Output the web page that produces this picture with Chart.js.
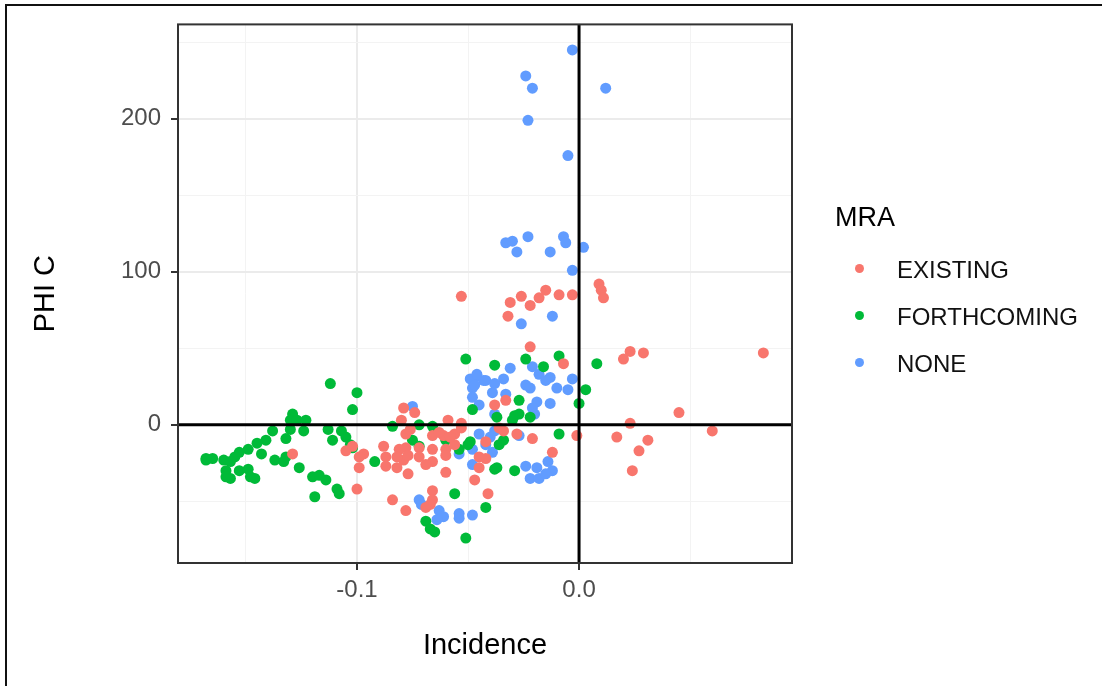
<!DOCTYPE html>
<html lang="en">
<head>
  <meta charset="UTF-8">
  <title>PHI C vs Incidence</title>
  <script src="https://cdn.jsdelivr.net/npm/chart.js"></script>
  <style>
    body { margin: 0; background: #fff; font-family: "Liberation Sans", Arial, sans-serif; }
    .wrap { position: relative; width: 1102px; height: 686px; overflow: hidden; }
    .frame-top { position: absolute; left: 5px; top: 4px; width: 1097px; height: 2px; background: #111; }
    .frame-left { position: absolute; left: 5px; top: 4px; width: 2px; height: 682px; background: #111; }
    .legend-title { position: absolute; left: 835px; top: 204px; font-size: 27px; line-height: 27px; color: #000; }
    .legend-item { position: absolute; left: 897px; font-size: 24px; line-height: 24px; color: #111; }
    .legend-dot { position: absolute; width: 9px; height: 9px; border-radius: 50%; }
  </style>
</head>
<body>
  <div class="wrap">
    <canvas id="scatter" width="1102" height="686"></canvas>
    <div class="frame-top"></div>
    <div class="frame-left"></div>
    <div id="legend"></div>
  </div>

  <script>
    // MRA groups
    const groups = ['EXISTING', 'FORTHCOMING', 'NONE'];
    const groupColors = ['#F8766D', '#00BA38', '#619CFF'];

    // [Incidence, PHI C]
    const existing = [
      [-0.053,84],[-0.031,80],[-0.026,84],[-0.022,78],[-0.018,83],[-0.015,88],[-0.009,85],[-0.003,85],[-0.032,71],[-0.022,51],[-0.007,40],
      [0.009,92],[0.010,88],[0.011,83],[0.023,48],[0.020,43],[0.029,47],[0.083,47],[0.045,8],[0.023,1],[0.060,-4],[0.017,-8],[0.031,-10],[0.027,-17],[0.024,-30],
      [-0.038,13],[-0.033,16],[-0.034,-4],[-0.028,-6],[-0.021,-9],[-0.012,-18],[-0.001,-7],[-0.042,-11],[-0.042,-22],[-0.045,-28],[-0.047,-36],[-0.041,-45],[-0.036,-2],[-0.045,-21],
      [-0.079,11],[-0.074,8],[-0.059,3],[-0.053,1],[-0.078,-6],[-0.066,-7],[-0.061,-7],[-0.056,-6],[-0.078,-15],[-0.072,-15],[-0.066,-16],[-0.060,-16],[-0.056,-13],
      [-0.079,-23],[-0.072,-21],[-0.066,-24],[-0.060,-20],[-0.077,-32],[-0.069,-26],[-0.060,-31],[-0.066,-43],[-0.066,-49],[-0.069,-54],[-0.078,-56],[-0.053,-2],
      [-0.080,3],[-0.076,-3],[-0.063,-5],[-0.058,-8],[-0.088,-14],[-0.081,-16],[-0.097,-19],[-0.087,-21],[-0.082,-21],[-0.077,-20],[-0.087,-27],[-0.082,-28],
      [-0.099,-28],[-0.099,-21],[-0.084,-49],[-0.067,-52],[-0.129,-19],[-0.105,-17],[-0.102,-14],[-0.100,-42]
    ];
    const forthcoming = [
      [-0.112,27],[-0.100,21],[-0.102,10],[-0.129,7],[-0.130,3],[-0.127,3],[-0.123,3],[-0.124,-4],[-0.130,-3],[-0.132,-9],[-0.138,-4],[-0.141,-10],
      [-0.145,-12],[-0.149,-16],[-0.153,-18],[-0.155,-21],[-0.143,-19],[-0.168,-22],[-0.165,-22],[-0.168,-23],[-0.160,-23],[-0.157,-24],[-0.159,-30],
      [-0.159,-34],[-0.157,-35],[-0.153,-30],[-0.149,-29],[-0.148,-34],[-0.146,-35],[-0.137,-23],[-0.133,-24],[-0.132,-21],[-0.126,-28],[-0.113,-3],
      [-0.111,-10],[-0.107,-4],[-0.105,-8],[-0.103,-13],[-0.102,-15],[-0.120,-34],[-0.117,-33],[-0.114,-36],[-0.119,-47],[-0.109,-42],[-0.108,-45],[-0.092,-24],
      [-0.051,43],[-0.048,10],[-0.084,-1],[-0.072,0],[-0.066,-1],[-0.075,-10],[-0.072,-14],[-0.060,-10],[-0.054,-16],[-0.050,-13],[-0.056,-45],
      [-0.069,-63],[-0.067,-68],[-0.065,-70],[-0.051,-74],[-0.042,-54],
      [-0.038,39],[-0.024,43],[-0.016,38],[-0.009,45],[0.003,23],[0.000,14],[-0.027,16],[-0.037,5],[-0.029,6],[-0.027,7],[-0.022,5],[-0.030,3],
      [-0.009,-6],[-0.034,-10],[-0.036,-13],[-0.037,-28],[-0.038,-29],[-0.029,-30],[0.008,40],[-0.049,-11]
    ];
    const none = [
      [-0.003,245],[-0.024,228],[-0.021,220],[0.012,220],[-0.023,199],[-0.005,176],
      [-0.033,119],[-0.030,120],[-0.028,113],[-0.023,123],[-0.013,113],[-0.007,123],[-0.006,119],[0.002,116],[-0.003,101],
      [-0.026,66],[-0.012,71],
      [-0.031,37],[-0.021,38],[-0.018,33],[-0.013,31],[-0.015,29],[-0.024,26],[-0.022,24],[-0.034,30],[-0.046,32],[-0.043,29],[-0.048,24],
      [-0.039,21],[-0.010,24],[-0.005,23],[-0.003,30],[-0.013,14],[-0.019,15],[-0.021,11],[-0.045,13],[-0.038,7],[-0.020,7],[-0.049,30],
      [-0.042,29],[-0.038,27],[-0.048,18],[-0.033,20],[-0.046,33],[-0.047,26],
      [-0.045,-6],[-0.038,-4],[-0.027,-7],[-0.042,-13],[-0.039,-18],[-0.048,-16],[-0.040,-8],[-0.054,-19],[-0.048,-26],
      [-0.024,-27],[-0.019,-28],[-0.014,-24],[-0.012,-30],[-0.022,-35],[-0.018,-35],[-0.015,-32],
      [-0.048,-59],[-0.072,-49],[-0.063,-56],[-0.061,-60],[-0.064,-62],[-0.054,-58],[-0.054,-61],[-0.071,-52],
      [-0.075,12]
    ];

    // axis ranges and breaks (major ones carry a label, minor ones are blank)
    const xRange = [-0.1806, 0.0959];
    const yRange = [-90.3, 261.7];
    const xTicks = [-0.15, -0.1, -0.05, 0, 0.05];
    const xTickText = ['', '-0.1', '', '0.0', ''];
    const yTicks = [-50, 0, 50, 100, 150, 200, 250];
    const yTickText = ['', '0', '', '100', '', '200', ''];

    const seriesData = [existing, forthcoming, none];

    // reference lines at x = 0 and y = 0 plus the panel border
    const panelOverlay = {
      id: 'panelOverlay',
      afterDatasetsDraw(chart) {
        const { ctx, chartArea: a, scales } = chart;
        const x0 = scales.x.getPixelForValue(0);
        const y0 = scales.y.getPixelForValue(0);
        ctx.save();
        ctx.strokeStyle = '#000';
        ctx.lineWidth = 3;
        ctx.beginPath();
        ctx.moveTo(a.left, y0); ctx.lineTo(a.right, y0);
        ctx.moveTo(x0, a.top); ctx.lineTo(x0, a.bottom);
        ctx.stroke();
        ctx.strokeStyle = '#333';
        ctx.lineWidth = 2;
        ctx.strokeRect(a.left, a.top, a.right - a.left, a.bottom - a.top);
        ctx.restore();
      }
    };

    function gridOpts(labels) {
      return {
        color: c => labels[c.index] ? '#EBEBEB' : '#F3F3F3',
        lineWidth: c => labels[c.index] ? 2 : 1,
        tickColor: c => labels[c.index] ? '#333' : 'rgba(0,0,0,0)',
        tickLength: 7,
        tickWidth: 2
      };
    }

    new Chart(document.getElementById('scatter'), {
      type: 'scatter',
      data: {
        datasets: groups.map((g, i) => ({
          label: g,
          data: seriesData[i].map(p => ({ x: p[0], y: p[1] })),
          backgroundColor: groupColors[i],
          borderWidth: 0,
          pointRadius: 5.5,
          pointHoverRadius: 5.5
        }))
      },
      options: {
        responsive: false,
        animation: false,
        devicePixelRatio: 1,
        layout: { padding: { left: 0, top: 21, right: 310, bottom: 0 } },
        plugins: { legend: { display: false }, tooltip: { enabled: false } },
        scales: {
          x: {
            type: 'linear',
            min: xRange[0],
            max: xRange[1],
            afterBuildTicks: s => { s.ticks = xTicks.map(v => ({ value: v })); },
            afterFit: s => { s.height = 123; },
            grid: gridOpts(xTickText),
            border: { display: false },
            ticks: {
              padding: 6,
              color: '#4D4D4D',
              font: { family: 'Liberation Sans', size: 24 },
              maxRotation: 0,
              callback: (v, i) => xTickText[i]
            },
            title: {
              display: true,
              text: 'Incidence',
              color: '#000',
              font: { family: 'Liberation Sans', size: 29 },
              padding: { top: 0, bottom: 23 }
            }
          },
          y: {
            type: 'linear',
            min: yRange[0],
            max: yRange[1],
            afterBuildTicks: s => { s.ticks = yTicks.map(v => ({ value: v })); },
            afterFit: s => { s.width = 178; },
            grid: gridOpts(yTickText),
            border: { display: false },
            ticks: {
              padding: 10,
              color: '#4D4D4D',
              font: { family: 'Liberation Sans', size: 24 },
              callback: (v, i) => yTickText[i]
            },
            title: {
              display: true,
              text: 'PHI C',
              color: '#000',
              font: { family: 'Liberation Sans', size: 29 },
              padding: { top: 29, bottom: 0 }
            }
          }
        }
      },
      plugins: [panelOverlay]
    });

    // legend on the right
    const legend = document.getElementById('legend');
    const title = document.createElement('div');
    title.className = 'legend-title';
    title.textContent = 'MRA';
    legend.appendChild(title);
    groups.forEach((g, i) => {
      const cy = 268.5 + i * 47;
      const dot = document.createElement('div');
      dot.className = 'legend-dot';
      dot.style.left = (859 - 4.5) + 'px';
      dot.style.top = (cy - 4.5) + 'px';
      dot.style.background = groupColors[i];
      legend.appendChild(dot);
      const item = document.createElement('div');
      item.className = 'legend-item';
      item.style.top = (cy - 10.5) + 'px';
      item.textContent = g;
      legend.appendChild(item);
    });
  </script>
</body>
</html>
